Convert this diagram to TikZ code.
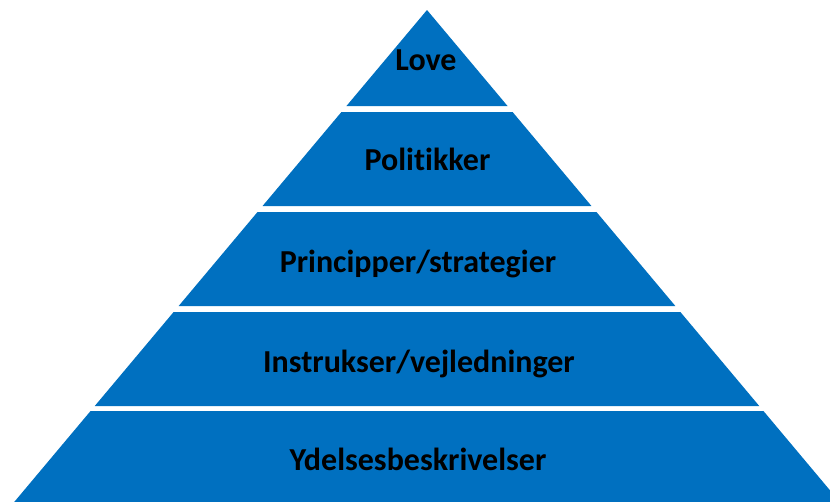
\documentclass[tikz,border=0pt]{standalone}
\usepackage{fontspec}
\setmainfont{Carlito}[Ligatures=NoCommon]
\definecolor{pyrblue}{RGB}{0,112,192}
\tikzset{lvl/.style={font=\bfseries\fontsize{32}{38}\selectfont, anchor=base, inner sep=0pt}}
\begin{document}
\begin{tikzpicture}[x=1pt, y=-1pt]
\useasboundingbox (0,0) rectangle (830,501);
\clip (0,0) rectangle (830,501);
% slope of the sides: 0.839 per unit of depth below the apex (427,10)
\fill[pyrblue] (427,10)--({427+0.839*96},106)--({427-0.839*96},106)--cycle;
\fill[pyrblue] ({427-0.839*102},112)--({427+0.839*102},112)--({427+0.839*196},206)--({427-0.839*196},206)--cycle;
\fill[pyrblue] ({427-0.839*202},212)--({427+0.839*202},212)--({427+0.839*296},306)--({427-0.839*296},306)--cycle;
\fill[pyrblue] ({427-0.839*302},312)--({427+0.839*302},312)--({427+0.839*396},406)--({427-0.839*396},406)--cycle;
\fill[pyrblue] ({427-0.839*401},411)--({427+0.839*401},411)--({427+0.839*495},505)--({427-0.839*495},505)--cycle;
\node[lvl] (love) at (426,70) {Love};
\node[lvl] (pol) at (427.5,170) {Politikker};
\node[lvl] (prin) at (418,272) {Principper/strategier};
\node[lvl] (instr) at (419,372) {Instrukser/vejledninger};
\node[lvl] (ydel) at (418,470) {Ydelsesbeskrivelser};
\end{tikzpicture}
\end{document}
